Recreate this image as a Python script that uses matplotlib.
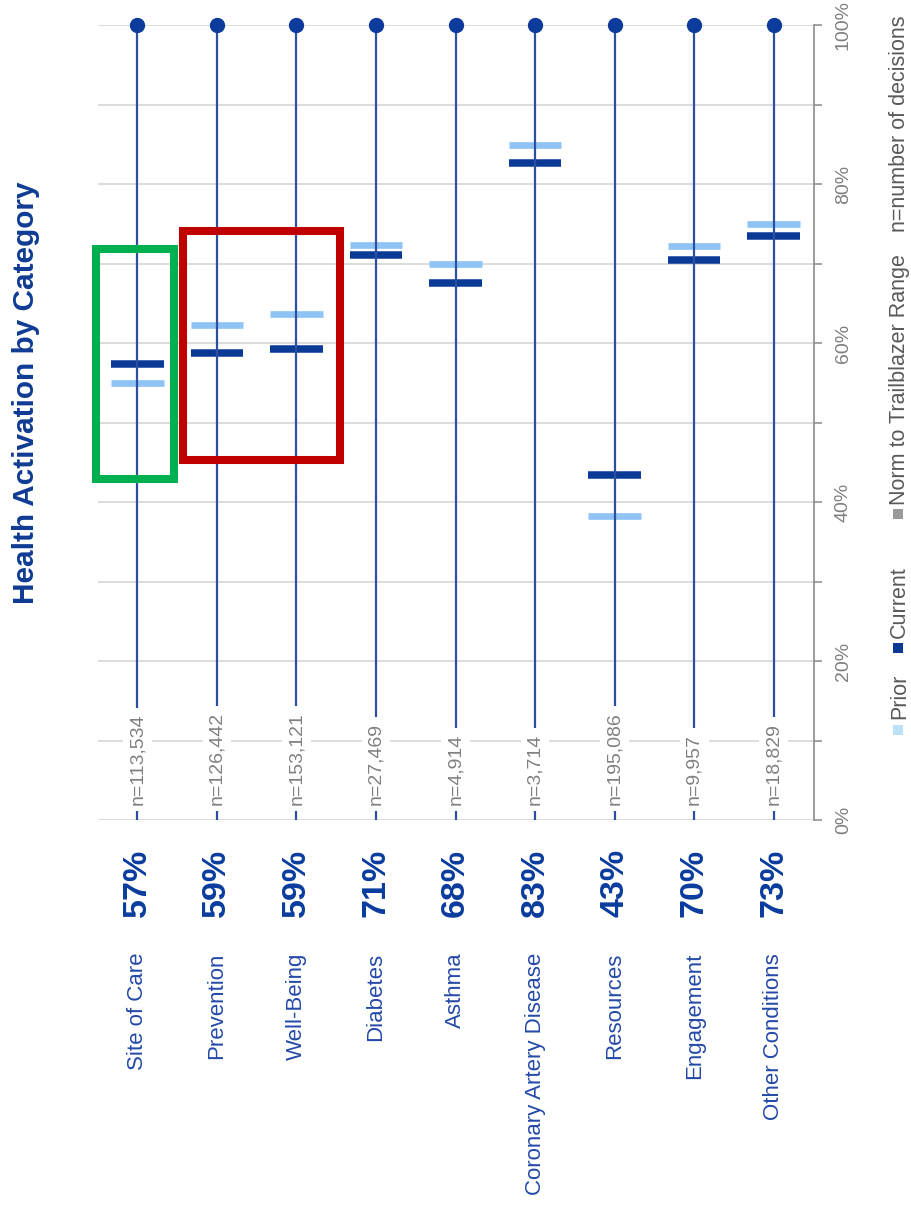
import numpy as np
import matplotlib
matplotlib.use("Agg")
import matplotlib.pyplot as plt
from matplotlib import font_manager
from matplotlib.patches import Rectangle

# ------------------------------
# Data
# ------------------------------
categories = ["Site of Care", "Prevention", "Well-Being", "Diabetes", "Asthma",
              "Coronary Artery Disease", "Resources", "Engagement", "Other Conditions"]
prior = [55.0, 62.3, 63.7, 72.3, 70.0, 84.9, 38.2, 72.2, 75.0]
current = [57.4, 58.8, 59.3, 71.1, 67.6, 82.6, 43.4, 70.4, 73.4]
n_decisions = [113534, 126442, 153121, 27469, 4914, 3714, 195086, 9957, 18829]
y_ticks = list(range(0, 101, 10))

# colours
C_PRIOR = "#8ec3f3"
C_CURRENT = "#0b3a96"
C_STEM = "#2c4fa3"
C_DOT = "#0d3b9c"
C_PCT = "#0a3c9e"
C_NAME = "#2449a8"
C_TITLE = "#0f3c93"
C_GRID = "#d9d9d9"
C_AXIS = "#8c8c8c"
C_LEGEND = "#595959"

# narrow face for the title / category text if we have it
installed = {f.name for f in font_manager.fontManager.ttflist}
if "Liberation Sans Narrow" in installed:
    NARROW, NSCALE = "Liberation Sans Narrow", 1 / 0.82
else:
    NARROW, NSCALE = "Liberation Sans", 1.0
plt.rcParams["font.family"] = ["Liberation Sans", "DejaVu Sans"]

W, H = 911, 1211
fig = plt.figure(figsize=(W / 100, H / 100), dpi=100)
fig.patch.set_facecolor("white")
ax = fig.add_axes([97.5 / W, 391 / H, 716 / W, 795 / H])

x = np.arange(len(categories))
ax.set_xlim(-0.5, len(categories) - 0.5)
ax.set_ylim(0, 100)

# grid + right hand axis
ax.set_yticks(y_ticks)
ax.set_yticklabels([f"{t}%" if t % 20 == 0 else "" for t in y_ticks])
ax.yaxis.tick_right()
ax.yaxis.grid(True, color=C_GRID, lw=1.3, zorder=0)
ax.set_axisbelow(True)
ax.set_xticks([])
for s in ["top", "left", "bottom"]:
    ax.spines[s].set_visible(False)
ax.spines["right"].set_color(C_AXIS)
ax.spines["right"].set_linewidth(1.2)
ax.tick_params(axis="y", direction="out", length=6, width=1.1, color=C_AXIS,
               pad=9.4, labelsize=14, labelcolor="#7f7f7f", labelrotation=90)
for lbl in ax.get_yticklabels():
    lbl.set_verticalalignment("center")

# stems with a dot on top
ax.vlines(x, 0, 100, color=C_STEM, lw=1.6, zorder=3)
ax.plot(x, [100] * len(x), "o", color=C_DOT, ms=10, clip_on=False, zorder=4)

# prior / current markers
half = 0.33
ax.hlines(prior, x - half, x + half, color=C_PRIOR, lw=4.8, zorder=2)
ax.hlines(current, x - half, x + half, color=C_CURRENT, lw=5.4, zorder=2)

# sample size labels at the foot of each stem
for xi, n in zip(x, n_decisions):
    ax.text(xi, 1.9, f"n={n:,}", rotation=90, ha="center", va="bottom",
            fontsize=14, color="#808080", zorder=5,
            bbox=dict(boxstyle="square,pad=0.3", fc="white", ec="none"))

# score and category name under the axis
for xi, c, name in zip(x, current, categories):
    ax.text(xi, -7.9, f"{round(c)}%", rotation=90, ha="center", va="center",
            fontsize=24.5 * NSCALE, fontweight="bold", family=NARROW,
            color=C_PCT, clip_on=False)
    ax.text(xi, -16.7, name, rotation=90, ha="center", va="top",
            fontsize=16 * NSCALE, family=NARROW, color=C_NAME, clip_on=False)

# highlight boxes
ax.add_patch(Rectangle((-0.52, 42.9), 0.98, 28.9, fill=False, ec="#00b050",
                       lw=5.8, clip_on=False, zorder=6))
ax.add_patch(Rectangle((0.57, 45.3), 1.98, 28.8, fill=False, ec="#c00000",
                       lw=5.8, clip_on=False, zorder=6))

# title
fig.text(26 / W, 1 - 604 / H, "Health Activation by Category", rotation=90,
         ha="center", va="bottom", fontsize=21.4 * NSCALE, fontweight="bold",
         family=NARROW, color=C_TITLE)

# legend along the right edge
legend_items = [("Prior", "#bfe1f8", 730, 719),
                ("Current", C_CURRENT, 648, 638),
                ("Norm to Trailblazer Range", "#9a9a9a", 514, 505),
                ("n=number of decisions", None, None, 232)]
for label, col, sq_y, txt_y in legend_items:
    if col is not None:
        fig.add_artist(Rectangle(((898 - 5) / W, 1 - (sq_y + 5) / H), 10 / W, 10 / H,
                                 transform=fig.transFigure, fc=col, ec="none"))
    fig.text(899.5 / W, 1 - txt_y / H, label, rotation=90, ha="center",
             va="bottom", fontsize=15.5, color=C_LEGEND)

fig.savefig("out.png", dpi=100, facecolor="white")
